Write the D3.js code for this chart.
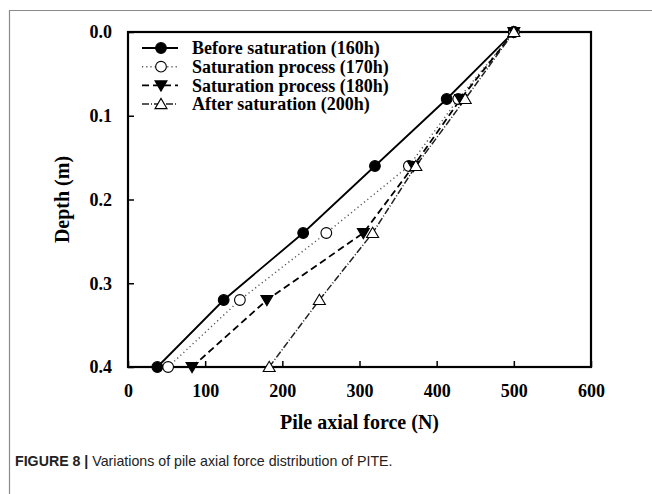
<!DOCTYPE html>
<html>
<head>
<meta charset="utf-8">
<script src="https://cdn.jsdelivr.net/npm/d3@7"></script>
<style>
  body { margin: 0; background: #fff; }
  svg { display: block; }
</style>
</head>
<body>
<div id="chart"></div>
<script>
// Pile axial force vs depth, four saturation stages

var depths = [0.0, 0.08, 0.16, 0.24, 0.32, 0.4]
var force160 = [500, 413, 320, 227, 124, 38]
var force170 = [500, 428, 364, 257, 145, 52]
var force180 = [500, 431, 370, 305, 180, 83]
var force200 = [500, 437, 373, 317, 248, 183]
var seriesNames = [
  'Before saturation (160h)',
  'Saturation process (170h)',
  'Saturation process (180h)',
  'After saturation (200h)'
]
var xTicks = [0, 100, 200, 300, 400, 500, 600]
var yTicks = [0.0, 0.1, 0.2, 0.3, 0.4]

var width = 652
var height = 494
var margin = { left: 128, top: 32, right: 61, bottom: 127 }
var innerW = width - margin.left - margin.right
var innerH = height - margin.top - margin.bottom

var serif = '"Liberation Serif", "Times New Roman", serif'
var sans = '"Liberation Sans", Arial, sans-serif'

var svg = d3.select('#chart')
  .append('svg')
  .attr('width', width)
  .attr('height', height)

// outer figure frame (top and left edges only visible)
svg.append('path')
  .attr('d', 'M9.5,' + height + ' V10.5 H' + width)
  .attr('fill', 'none')
  .attr('stroke', '#8a8a8a')
  .attr('stroke-width', 1.2)

var x = d3.scaleLinear().domain([0, 600]).range([0, innerW])
var y = d3.scaleLinear().domain([0, 0.4]).range([0, innerH])

var g = svg.append('g')
  .attr('transform', 'translate(' + margin.left + ',' + margin.top + ')')

// axes with inward ticks
var xAxis = g.append('g')
  .attr('transform', 'translate(0,' + innerH + ')')
  .call(d3.axisBottom(x).tickValues(xTicks).tickSizeInner(-6).tickSizeOuter(0).tickPadding(17))
var yAxis = g.append('g')
  .call(d3.axisLeft(y).tickValues(yTicks).tickFormat(d3.format('.1f')).tickSizeInner(-6).tickSizeOuter(0).tickPadding(16))

;[xAxis, yAxis].forEach(function(ax) {
  ax.select('.domain').remove()
  ax.selectAll('line').attr('stroke', '#000').attr('stroke-width', 1.5)
  ax.selectAll('text')
    .attr('fill', '#000')
    .style('font-family', serif)
    .style('font-weight', 'bold')
    .style('font-size', '18px')
})

// plot frame
g.append('rect')
  .attr('width', innerW)
  .attr('height', innerH)
  .attr('fill', 'none')
  .attr('stroke', '#000')
  .attr('stroke-width', 2.2)

// axis titles
svg.append('text')
  .attr('x', margin.left + innerW / 2)
  .attr('y', 429)
  .attr('text-anchor', 'middle')
  .style('font-family', serif)
  .style('font-weight', 'bold')
  .style('font-size', '20px')
  .text('Pile axial force (N)')

svg.append('text')
  .attr('transform', 'translate(69,' + (margin.top + innerH / 2) + ') rotate(-90)')
  .attr('text-anchor', 'middle')
  .style('font-family', serif)
  .style('font-weight', 'bold')
  .style('font-size', '20px')
  .text('Depth (m)')

// series styles
var series = [
  { name: seriesNames[0], values: force160, dash: null, marker: 'circle', fill: '#000', lw: 1.8, lc: '#000' },
  { name: seriesNames[1], values: force170, dash: '1.2,3', marker: 'circle', fill: '#fff', lw: 1.4, lc: '#555' },
  { name: seriesNames[2], values: force180, dash: '7,4', marker: 'tri-down', fill: '#000', lw: 1.8, lc: '#000' },
  { name: seriesNames[3], values: force200, dash: '7,2,1,2', marker: 'tri-up', fill: '#fff', lw: 1.5, lc: '#222' }
]

function markerPath(type) {
  if (type === 'circle') return d3.symbol(d3.symbolCircle, 90)()
  var s = 6
  if (type === 'tri-down') return 'M' + (-s) + ',' + (-s * 0.75) + 'L' + s + ',' + (-s * 0.75) + 'L0,' + (s * 0.95) + 'Z'
  return 'M' + (-s) + ',' + (s * 0.75) + 'L' + s + ',' + (s * 0.75) + 'L0,' + (-s * 0.95) + 'Z'
}

var line = d3.line()
  .x(function(d) { return x(d.f) })
  .y(function(d) { return y(d.z) })

series.forEach(function(s) {
  var pts = s.values.map(function(v, i) { return { f: v, z: depths[i] } })
  g.append('path')
    .datum(pts)
    .attr('d', line)
    .attr('fill', 'none')
    .attr('stroke', s.lc)
    .attr('stroke-width', s.lw)
    .attr('stroke-dasharray', s.dash)
})

// markers drawn after all lines
series.forEach(function(s) {
  var pts = s.values.map(function(v, i) { return { f: v, z: depths[i] } })
  g.selectAll(null)
    .data(pts)
    .enter()
    .append('path')
    .attr('d', markerPath(s.marker))
    .attr('transform', function(d) { return 'translate(' + x(d.f) + ',' + y(d.z) + ')' })
    .attr('fill', s.fill)
    .attr('stroke', '#000')
    .attr('stroke-width', 1.1)
})

// legend
var legend = g.append('g').attr('transform', 'translate(14,16)')
series.forEach(function(s, i) {
  var row = legend.append('g').attr('transform', 'translate(0,' + (i * 18.7) + ')')
  row.append('line')
    .attr('x1', 0).attr('x2', 36)
    .attr('stroke', s.lc)
    .attr('stroke-width', s.lw)
    .attr('stroke-dasharray', s.dash)
  row.append('path')
    .attr('d', markerPath(s.marker))
    .attr('transform', 'translate(19,0)')
    .attr('fill', s.fill)
    .attr('stroke', '#000')
    .attr('stroke-width', 1.1)
  row.append('text')
    .attr('x', 50)
    .attr('dy', '0.35em')
    .style('font-family', serif)
    .style('font-weight', 'bold')
    .style('font-size', '18px')
    .text(s.name)
})

// caption
var cap = svg.append('text')
  .attr('x', 15)
  .attr('y', 466)
  .style('font-family', sans)
  .style('font-size', '14.2px')
  .attr('fill', '#222')
cap.append('tspan').style('font-weight', 'bold').text('FIGURE 8 | ')
cap.append('tspan').text('Variations of pile axial force distribution of PITE.')
</script>
</body>
</html>
